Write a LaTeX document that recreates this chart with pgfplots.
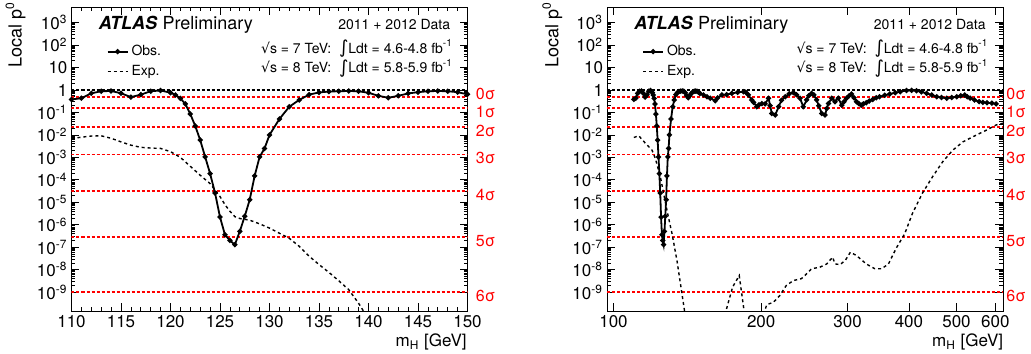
\documentclass[border=0pt]{standalone}
\usepackage{fontspec}
\setmainfont{TeX Gyre Heros}
\newfontfamily\dejavu{DejaVu Sans}
\usepackage{pgfplots}
\pgfplotsset{compat=1.18}

\newcommand{\fs}[1]{\fontsize{#1}{#1}\selectfont}
\newcommand{\integ}{{\dejavu\fontsize{9}{9}\selectfont\raisebox{-0.3pt}{∫}}}

\pgfplotsset{
 legend image code/.code={\draw[mark repeat=2,mark phase=2,#1] plot coordinates {(0pt,0pt) (5pt,0pt) (10pt,0pt)};},
 every axis/.append style={
  scale only axis, width=198pt, height=151.75pt,
  ymin=1.45e-10, ymax=4700,
  ytick={1e-9,1e-8,1e-7,1e-6,1e-5,1e-4,1e-3,1e-2,1e-1,1,10,100,1000},
  yticklabels={10\textsuperscript{-9},10\textsuperscript{-8},10\textsuperscript{-7},10\textsuperscript{-6},10\textsuperscript{-5},10\textsuperscript{-4},10\textsuperscript{-3},10\textsuperscript{-2},10\textsuperscript{-1},1,10,10\textsuperscript{2},10\textsuperscript{3}},
  tick align=inside,
  major tick length=4pt, minor tick length=2pt,
  axis line style={line width=0.5pt},
  tick style={black, line width=0.4pt},
  tick label style={font=\fs{8.5}},
  xticklabel style={yshift=1.5pt},
  yticklabel style={xshift=1.5pt},
  legend cell align=left,
  legend style={draw=none, fill=none, inner sep=0pt, outer sep=0pt,
    at={(0.089,0.881)}, anchor=north west,
    row sep=2pt, column sep=0.75pt, font=\fs{7},
    nodes={inner sep=0.75pt, text height=5pt, text depth=1.5pt}},
 },
}

% sigma lines: #1 xmin, #2 xmax
\newcommand{\siglines}[2]{%
 \addplot[black, line width=0.7pt, dash pattern=on 1.5pt off 1pt, forget plot] coordinates {(#1,1) (#2,1)};
 \addplot[red, line width=0.8pt, dash pattern=on 1.5pt off 1pt, forget plot] coordinates {(#1,0.5) (#2,0.5)};
 \addplot[red, line width=0.8pt, dash pattern=on 1.5pt off 1pt, forget plot] coordinates {(#1,0.158655) (#2,0.158655)};
 \addplot[red, line width=0.8pt, dash pattern=on 1.5pt off 1pt, forget plot] coordinates {(#1,0.0227501) (#2,0.0227501)};
 \addplot[red, line width=0.8pt, dash pattern=on 1.5pt off 1pt, forget plot] coordinates {(#1,0.0013499) (#2,0.0013499)};
 \addplot[red, line width=0.8pt, dash pattern=on 1.5pt off 1pt, forget plot] coordinates {(#1,3.16712e-5) (#2,3.16712e-5)};
 \addplot[red, line width=0.8pt, dash pattern=on 1.5pt off 1pt, forget plot] coordinates {(#1,2.86652e-7) (#2,2.86652e-7)};
 \addplot[red, line width=0.8pt, dash pattern=on 1.5pt off 1pt, forget plot] coordinates {(#1,9.86588e-10) (#2,9.86588e-10)};
}
% sigma labels: #1 xmax, #2 xshift
\newcommand{\siglabels}[2]{%
 \node[anchor=west, red, font=\fs{8}, inner sep=0pt, xshift=#2, yshift=1.35pt] at (axis cs:#1,0.5) {0σ};
 \node[anchor=west, red, font=\fs{8}, inner sep=0pt, xshift=#2, yshift=-2.2pt] at (axis cs:#1,0.158655) {1σ};
 \node[anchor=west, red, font=\fs{8}, inner sep=0pt, xshift=#2, yshift=-2pt] at (axis cs:#1,0.0227501) {2σ};
 \node[anchor=west, red, font=\fs{8}, inner sep=0pt, xshift=#2, yshift=-1.7pt] at (axis cs:#1,0.0013499) {3σ};
 \node[anchor=west, red, font=\fs{8}, inner sep=0pt, xshift=#2, yshift=-2.1pt] at (axis cs:#1,3.16712e-5) {4σ};
 \node[anchor=west, red, font=\fs{8}, inner sep=0pt, xshift=#2, yshift=-2pt] at (axis cs:#1,2.86652e-7) {5σ};
 \node[anchor=west, red, font=\fs{8}, inner sep=0pt, xshift=#2, yshift=-1.9pt] at (axis cs:#1,9.86588e-10) {6σ};
}
\newcommand{\texts}{%
 \node[anchor=base west, inner sep=0pt, font=\fs{9}] at (rel axis cs:0.068,0.927) {\textbf{\textit{ATLAS}} Preliminary};
 \node[anchor=base east, inner sep=0pt, font=\fs{7}] at (rel axis cs:0.957,0.927) {2011 + 2012 Data};
 \node[anchor=base east, inner sep=0pt, font=\fs{7}] at (rel axis cs:0.964,0.850) {{\dejavu √}s = 7 TeV:\ \ \integ Ldt = 4.6-4.8 fb\textsuperscript{-1}};
 \node[anchor=base east, inner sep=0pt, font=\fs{7}] at (rel axis cs:0.964,0.785) {{\dejavu √}s = 8 TeV:\ \ \integ Ldt = 5.8-5.9 fb\textsuperscript{-1}};
}

\begin{document}
\begin{tikzpicture}
\useasboundingbox (0,0) rectangle (515.5pt,176.5pt);

% ---------------- left panel ----------------
\begin{axis}[ymode=log, at={(35.75pt,21pt)}, anchor=south west,
  /pgf/number format/assume math mode=true, clip mode=individual,
  xmin=110, xmax=150, xtick={110,115,...,150}, minor x tick num=4]
 \siglines{110}{150}
 \addplot[black, line width=0.9pt, mark=*, mark size=0.8pt] coordinates {
  (110,0.38) (111,0.43) (112,0.71) (113,0.88) (114,0.90) (115,0.72) (116,0.48)
  (117,0.62) (118,0.88) (119,0.95) (120,0.76) (120.5,0.60) (121,0.42) (121.5,0.24)
  (122,0.085) (122.5,0.025) (123,0.0059) (123.5,1.05e-3) (124,1.9e-4) (124.5,2.6e-5)
  (125,2.2e-6) (125.5,3.6e-7) (126,2.0e-7) (126.5,1.3e-7) (127,5.1e-7) (127.5,2.4e-6)
  (128,1.3e-5) (128.5,1.5e-4) (129,1.05e-3) (129.5,2.5e-3) (130,1.0e-2) (131,5.1e-2)
  (132,0.18) (133,0.36) (134,0.62) (135,0.78) (136,0.85) (137,0.88) (138,0.90)
  (139,0.88) (140,0.75) (141,0.55) (142,0.45) (143,0.55) (144,0.70) (145,0.80)
  (146,0.88) (147,0.90) (148,0.88) (149,0.80) (150,0.64)};
 \addplot[black, line width=0.7pt, dash pattern=on 1.5pt off 1.5pt] coordinates {
  (110,6.9e-3) (111,7.9e-3) (112,8.9e-3) (113,9.1e-3) (114,7.1e-3) (115,4.9e-3)
  (116,3.5e-3) (117,2.8e-3) (118,2.6e-3) (119,2.5e-3) (120,1.8e-3) (121,1.0e-3)
  (122,4.0e-4) (123,1.6e-4) (124,6.8e-5) (125,1.8e-5) (125.5,7.9e-6) (126,4.0e-6)
  (126.5,2.3e-6) (127,1.9e-6) (128,1.6e-6) (129,1.1e-6) (130,7.1e-7) (131,4.2e-7)
  (132,2.5e-7) (133,1.1e-7) (134,4.0e-8) (135,1.7e-8) (136,7.6e-9) (137,3.2e-9)
  (138,1.3e-9) (139,3.2e-10) (140,6.3e-11)};
 \legend{Obs.,Exp.}
 \siglabels{150}{4pt}
 \texts
\end{axis}

% ---------------- right panel ----------------
\begin{axis}[ymode=log, xmode=log, at={(303.5pt,21pt)}, anchor=south west,
  /pgf/number format/assume math mode=true, clip mode=individual,
  xmin=97, xmax=622, xtick={100,200,300,400,500,600},
  xticklabels={100,200,300,400,500,600}, minor xtick={}]
 \siglines{97}{622}
 \addplot[black, line width=0.9pt, mark=*, mark size=0.8pt] coordinates {
  (110,0.38) (111,0.43) (112,0.71) (113,0.88) (114,0.90) (115,0.72) (116,0.48)
  (117,0.62) (118,0.88) (119,0.95) (120,0.76) (120.5,0.60) (121,0.42) (121.5,0.24)
  (122,0.085) (122.5,0.025) (123,0.0059) (123.5,1.05e-3) (124,1.9e-4) (124.5,2.6e-5)
  (125,2.2e-6) (125.5,3.6e-7) (126,2.0e-7) (126.5,1.3e-7) (127,5.1e-7) (127.5,2.4e-6)
  (128,1.3e-5) (128.5,1.5e-4) (129,1.05e-3) (129.5,2.5e-3) (130,1.0e-2) (131,5.1e-2)
  (132,0.18) (133,0.36) (134,0.62) (135,0.78) (136,0.85) (137,0.88) (138,0.90)
  (139,0.88) (140,0.75) (141,0.55) (142,0.45) (143,0.55) (144,0.70) (145,0.80)
  (146,0.88) (147,0.90) (148,0.88) (149,0.80) (150,0.70)
  (152.6,0.6) (155,0.5) (157.5,0.43) (161.2,0.33) (163,0.45) (166.3,0.6) (170,0.62)
  (174.3,0.71) (179,0.78) (184,0.84) (186,0.8) (188.3,0.6) (191.3,0.36) (193,0.28)
  (195.9,0.18) (198,0.22) (200.6,0.25) (203.7,0.24) (207,0.43) (208.5,0.2) (210.2,0.09)
  (213.6,0.077) (217,0.18) (220,0.35) (223.8,0.5) (228,0.68) (232.6,0.76) (236,0.62)
  (239.9,0.43) (243.6,0.18) (247.5,0.36) (250,0.55) (253.4,0.71) (256,0.6) (259.4,0.36)
  (262,0.2) (265.7,0.09) (269.9,0.077) (272,0.15) (274.1,0.25) (278.4,0.43) (282.8,0.3)
  (287.2,0.43) (291.7,0.21) (295,0.3) (298.5,0.43) (302,0.55) (305.5,0.66) (309,0.45)
  (312.6,0.3) (316,0.25) (319.9,0.21) (323,0.24) (327.4,0.27) (332,0.32) (337.5,0.38)
  (343,0.45) (348.2,0.5) (357,0.58) (365.7,0.66) (375,0.75) (383.9,0.84) (395.3,0.95)
  (405,0.97) (414.5,0.93) (424,0.82) (434.6,0.71) (445,0.6) (455.6,0.5) (466,0.46)
  (477.6,0.43) (489,0.46) (500.7,0.5) (510,0.55) (519.5,0.6) (526,0.5) (533,0.43)
  (544,0.36) (556,0.3) (566,0.28) (577,0.27) (590,0.26) (602,0.24)};
 \addplot[black, line width=0.7pt, dash pattern=on 1.5pt off 1.5pt] coordinates {
  (110,7.7e-3) (112.6,9.1e-3) (116.2,4.2e-3) (119.8,2.1e-3) (121.7,8.9e-4)
  (124.6,1.35e-4) (128.5,4.4e-6) (131.6,4.0e-7) (134.7,2.5e-8) (139.6,1.4e-10)
  (145,1e-12) (160,2e-12) (169.4,1.4e-10) (174.9,1.7e-9) (180.4,5.5e-9)
  (184.6,1.4e-10) (190,1e-12) (200,5e-11) (205.3,2.8e-10) (211.6,3.5e-10)
  (218.2,7.1e-10) (225,2.0e-9) (232.6,3.3e-9) (241.6,4.0e-9) (247.5,6.6e-9)
  (253.4,1.1e-8) (263.4,1.3e-8) (271.9,1.8e-8) (279.6,3.6e-8) (282.8,1.8e-8)
  (289.6,1.7e-8) (296.7,2.6e-8) (303.9,6.0e-8) (312.6,4.3e-8) (327.4,1.8e-8)
  (340.9,1.1e-8) (351.8,1.1e-8) (363.3,1.8e-8) (377.8,1.0e-7) (392.2,4.0e-7)
  (406.6,3.2e-6) (425.9,2.5e-5) (446.6,1.35e-4) (468.4,6.3e-4) (491.4,2.1e-3)
  (515.2,4.9e-3) (548.4,9.8e-3) (574.4,1.6e-2) (601.7,2.75e-2) (622,3.3e-2)};
 \legend{Obs.,Exp.}
 \siglabels{622}{1.5pt}
 \texts
\end{axis}

% axis titles
\node[rotate=90, anchor=base east, inner sep=0pt, font=\fs{9}] at (10.85pt,176pt) {Local p\textsuperscript{0}};
\node[rotate=90, anchor=base east, inner sep=0pt, font=\fs{9}] at (279.2pt,176pt) {Local p\textsuperscript{0}};
\node[anchor=base east, inner sep=0pt, font=\fs{8.5}] at (233.5pt,3.15pt) {m\textsubscript{H} [GeV]};
\node[anchor=base east, inner sep=0pt, font=\fs{8.5}] at (501.75pt,3.15pt) {m\textsubscript{H} [GeV]};
\end{tikzpicture}
\end{document}
